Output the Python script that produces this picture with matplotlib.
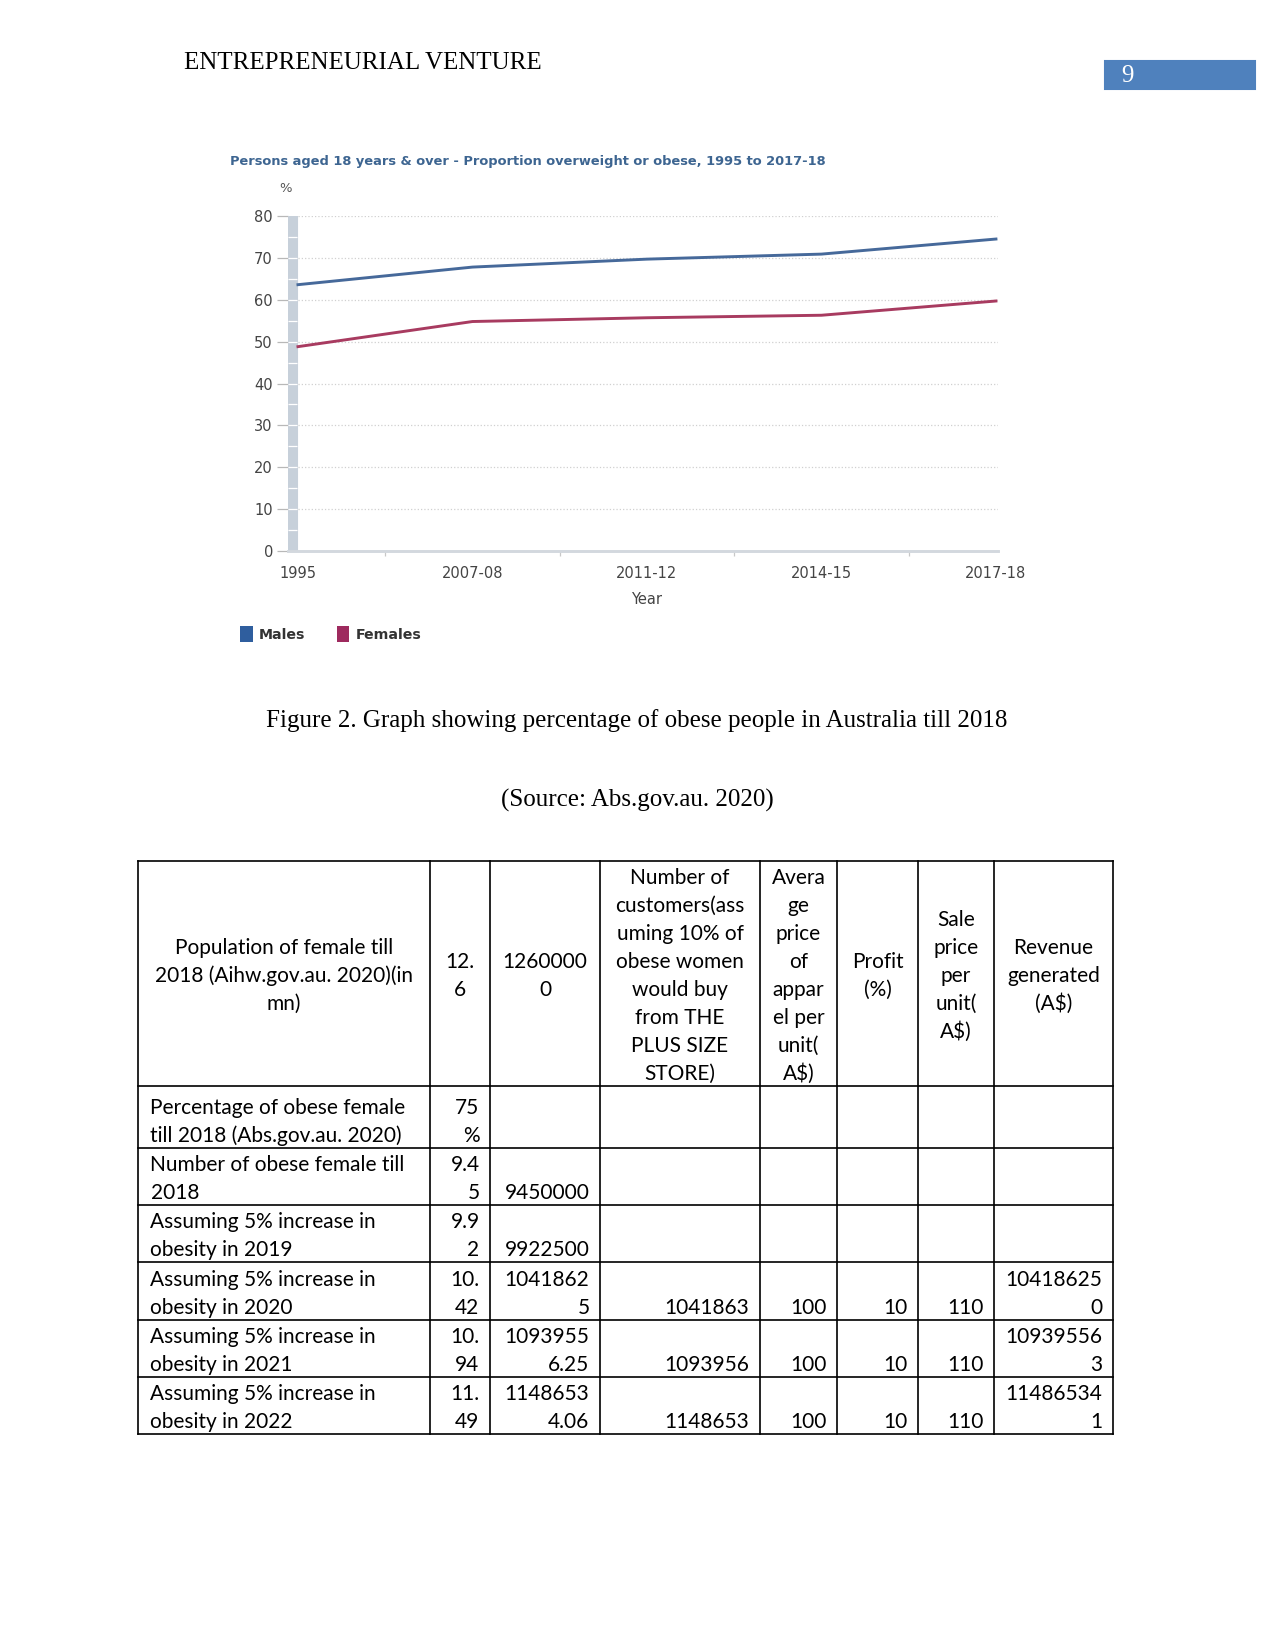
import numpy as np
import matplotlib.pyplot as plt
from matplotlib.patches import Patch, Rectangle

W, H = 1275, 1651

# chart data
years = ['1995', '2007-08', '2011-12', '2014-15', '2017-18']
males = [63.6, 67.8, 69.7, 70.9, 74.5]
females = [48.8, 54.8, 55.7, 56.3, 59.7]

# table data
row_labels = ['Population of female till\n2018 (Aihw.gov.au. 2020)(in\nmn)',
              'Percentage of obese female\ntill 2018 (Abs.gov.au. 2020)',
              'Number of obese female till\n2018',
              'Assuming 5% increase in\nobesity in 2019',
              'Assuming 5% increase in\nobesity in 2020',
              'Assuming 5% increase in\nobesity in 2021',
              'Assuming 5% increase in\nobesity in 2022']
header_cells = ['12.\n6', '1260000\n0',
                'Number of\ncustomers(ass\numing 10% of\nobese women\nwould buy\nfrom THE\nPLUS SIZE\nSTORE)',
                'Avera\nge\nprice\nof\nappar\nel per\nunit(\nA$)',
                'Profit\n(%)', 'Sale\nprice\nper\nunit(\nA$)', 'Revenue\ngenerated\n(A$)']
female_mn = ['75\n%', '9.4\n5', '9.9\n2', '10.\n42', '10.\n94', '11.\n49']
obese_count = ['', '9450000', '9922500', '1041862\n5', '1093955\n6.25', '1148653\n4.06']
customers = ['', '', '', '1041863', '1093956', '1148653']
avg_price = ['', '', '', '100', '100', '100']
profit = ['', '', '', '10', '10', '10']
sale_price = ['', '', '', '110', '110', '110']
revenue = ['', '', '', '10418625\n0', '10939556\n3', '11486534\n1']

serif = 'Liberation Serif'
tfont = 'Lato'

fig = plt.figure(figsize=(W / 150, H / 150), dpi=150)

# page layer in pixel coords
page = fig.add_axes([0, 0, 1, 1])
page.set_xlim(0, W)
page.set_ylim(H, 0)
page.axis('off')

page.text(184, 63, 'ENTREPRENEURIAL VENTURE', family=serif, fontsize=12, va='center', ha='left')
page.add_patch(Rectangle((1105, 61), 150, 28, color='#4f81bd'))
page.text(1127, 76, '9', family=serif, fontsize=12, color='white', va='center', ha='center')

page.text(637, 721, 'Figure 2. Graph showing percentage of obese people in Australia till 2018',
          family=serif, fontsize=12, ha='center', va='center')
page.text(637, 800, '(Source: Abs.gov.au. 2020)', family=serif, fontsize=12, ha='center', va='center')

# ---- chart ----
l, r, t, b = 287.5, 997.7, 216, 551
ax = fig.add_axes([l / W, 1 - b / H, (r - l) / W, (b - t) / H])
x = np.arange(len(years))
ax.set_xlim(-0.06, 4.01)
ax.set_ylim(0, 80)
ax.set_yticks(range(0, 81, 10))
ax.yaxis.grid(True, linestyle=':', color='#d0d0d0', lw=0.6)
ax.set_axisbelow(True)
for s in ['top', 'right', 'left']:
    ax.spines[s].set_visible(False)
ax.spines['bottom'].set_color('#d3d8de')
ax.spines['bottom'].set_linewidth(1.4)
ax.tick_params(axis='y', length=5.5, width=0.6, color='#b8b8b8', pad=1.5,
               labelsize=7, labelcolor='#444444')
ax.set_xticks(x)
ax.set_xticklabels(years)
ax.set_xticks(x[:-1] + 0.5, minor=True)
ax.tick_params(axis='x', which='major', length=0, pad=7, labelsize=7, labelcolor='#444444')
ax.tick_params(axis='x', which='minor', length=2.5, width=0.6, color='#c8c8c8')
ax.set_xlabel('Year', fontsize=7, color='#444444')
ax.xaxis.set_label_coords(0.505, -0.122)

# slider bar on the y axis
ax.axvspan(-0.06, -0.006, color='#c7d0da', zorder=2)
ax.hlines(np.arange(5, 80, 5), -0.06, -0.006, color='white', lw=0.6, zorder=3)

ax.plot(x, males, color='#46699a', lw=1.4, zorder=4)
ax.plot(x, females, color='#a83b60', lw=1.4, zorder=4)

fig.text(230 / W, 1 - 161 / H, 'Persons aged 18 years & over - Proportion overweight or obese, 1995 to 2017-18',
         fontsize=6.25, weight='bold', color='#3d6591', va='center', ha='left')
fig.text(286 / W, 1 - 189 / H, '%', fontsize=6.3, color='#555555', va='center', ha='center')

handles = [Patch(facecolor='#2f5e9e', edgecolor='none'), Patch(facecolor='#9e2a5e', edgecolor='none')]
fig.legend(handles, ['Males', 'Females'], loc='center left', bbox_to_anchor=(240 / W, 1 - 634 / H),
           ncol=2, frameon=False, handlelength=0.9, handleheight=1.4, handletextpad=0.45,
           columnspacing=2.2, borderpad=0, borderaxespad=0,
           prop={'size': 6.8, 'weight': 'bold'}, labelcolor='#333333')

# ---- table ----
cols = [138, 430, 490, 600, 760, 837, 918, 994, 1113]
rows = [861, 1086, 1148, 1205, 1262, 1320, 1377, 1434]
lw = 0.8
for cx in cols:
    page.plot([cx, cx], [rows[0], rows[-1]], color='black', lw=lw)
for ry in rows:
    page.plot([cols[0], cols[-1]], [ry, ry], color='black', lw=lw)

pitch = 28
fs = 10
base = 8


def put_lines(txt, xpos, ys, ha):
    for line, yy in zip(txt.split('\n'), ys):
        page.text(xpos, yy + base, line, family=tfont, fontsize=fs, ha=ha, va='baseline')


# header row: centred both ways
header = [row_labels[0]] + header_cells
cy = (rows[0] + rows[1]) / 2
for j, txt in enumerate(header):
    n = len(txt.split('\n'))
    ys = [cy + (k - (n - 1) / 2) * pitch for k in range(n)]
    put_lines(txt, (cols[j] + cols[j + 1]) / 2, ys, 'center')

# body rows: bottom aligned
body_cols = [female_mn, obese_count, customers, avg_price, profit, sale_price, revenue]
for i in range(6):
    bottom = rows[i + 2]
    lab = row_labels[i + 1]
    n = len(lab.split('\n'))
    ys = [bottom - 14 - (n - 1 - k) * pitch for k in range(n)]
    put_lines(lab, cols[0] + 12.5, ys, 'left')
    for j, col in enumerate(body_cols):
        txt = col[i]
        if not txt:
            continue
        n = len(txt.split('\n'))
        ys = [bottom - 14 - (n - 1 - k) * pitch for k in range(n)]
        put_lines(txt, cols[j + 2] - 10.5, ys, 'right')

fig.savefig('out.png', dpi=150)
